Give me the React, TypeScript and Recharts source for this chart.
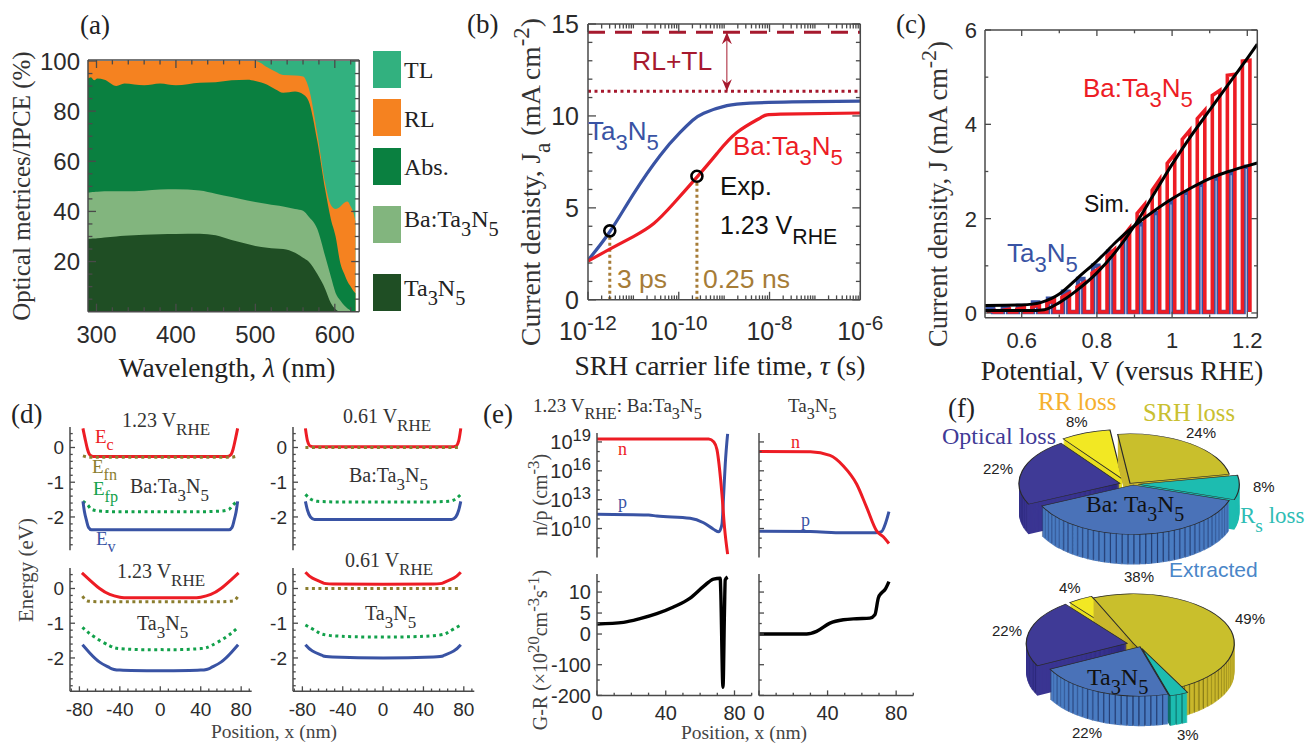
import React from 'react';
import { Area, Cell, ComposedChart, Line, Pie, PieChart, XAxis, YAxis } from 'recharts';

const SERIF = '"Liberation Serif", serif';
const SANS = '"Liberation Sans", sans-serif';
const INK = '#4a4a4a';
const RED = '#ed1c24';
const BLUE = '#3953a4';
const OLIVE = '#8b7d2e';
const GREEN = '#12a14b';
const WINE = '#a6192e';
const BROWN = '#a67c37';

// (a) optical metrics, all on one wavelength grid
const wavelengths = [289.3, 293, 297, 301, 310, 325, 335, 360, 380, 400, 430, 450, 470, 490, 500, 515, 525, 535, 550, 560, 567, 578, 588, 595, 601, 607, 612, 616, 620, 623, 626];
const tlTop = [100, 100, 100, 100, 100, 100, 100, 100, 100, 100, 100, 100, 100, 100, 100, 100, 100, 100, 100, 100, 100, 100, 100, 100, 100, 100, 100, 100, 100, 100, 100];
const rlTop = [100, 100, 100, 100, 100, 100, 100, 100, 100, 100, 100, 100, 100, 100, 100, 97.5, 95.8, 94.4, 94.2, 93.8, 89.4, 71, 51, 42.6, 41, 42, 43.5, 44, 42, 40, 36];
const absTop = [93, 93.5, 92.3, 93, 92.5, 90, 91, 90.3, 91, 90.3, 91.3, 91.5, 92.3, 92.5, 92, 90.5, 88.7, 87.3, 87.8, 86.7, 84, 68, 48.5, 37, 30, 19.3, 15, 12, 10, 8.5, 7.4];
const baTop = [47.5, 47.6, 47.7, 47.8, 48, 48, 48, 48.2, 48.7, 48.8, 48.3, 47, 45.7, 44.4, 43.8, 43, 42.5, 42, 41, 40.3, 38, 33, 22, 14, 7.5, 4.5, 2.5, 1.3, 0.5, 0, 0];
const taTop = [29, 29.1, 29.2, 29.3, 29.6, 30, 30.3, 30.7, 30.9, 31, 31.1, 30.5, 28.6, 27, 26.2, 25.5, 25.2, 25, 23.5, 21.5, 20, 15, 9, 3.5, 1, 0, 0, 0, 0, 0, 0];
const opticalRows = wavelengths.map((wl, i) => ({ wl, tl: tlTop[i], rl: rlTop[i], abs: absTop[i], ba: baTop[i], ta: taTop[i] }));
const legendRows: [string, string, number, number][] = [
  ['TL', '#32b17f', 51, 78],
  ['RL', '#f58220', 99, 127],
  ['Abs.', '#0a8040', 148, 175],
  ['Ba:Ta_{3}N_{5}', '#82b57e', 206, 227],
  ['Ta_{3}N_{5}', '#1f4e24', 274, 296],
];

// (b) x is log10 of the lifetime
const taLifetime = [[-12, 2.15], [-11.52, 3.7], [-11, 5.75], [-10.41, 7.85], [-9.97, 9.1], [-9.7, 9.75], [-9.45, 10.15], [-8.94, 10.56], [-8.43, 10.7], [-7.5, 10.76], [-6, 10.8]];
const baLifetime = [[-12, 2.1], [-11.51, 2.77], [-11, 3.44], [-10.55, 4.15], [-10.11, 5.25], [-9.6, 6.67], [-9.16, 7.95], [-8.72, 9.1], [-8.2, 9.9], [-7.76, 10.1], [-6, 10.16]];
const upperLimit = [[-12, 14.55], [-6, 14.55]];
const rlLimit = [[-12, 11.34], [-6, 11.34]];
const gapArrow = [[-8.94, 14.55], [-8.94, 11.34]];
const expTa = [[-11.52, 3.75]];
const expBa = [[-9.6, 6.72]];
const dropTa = [[-11.52, 0], [-11.52, 3.5]];
const dropBa = [[-9.6, 0], [-9.6, 6.45]];
const decades = [-12, -11, -10, -9, -8, -7];
const decadeSteps = [2, 3, 4, 5, 6, 7, 8, 9];

// (c) chopped light sweeps: [voltage, current when light goes on, current when it goes off]
const baPulses = [[0.507, 0.03, 0.05], [0.547, 0.05, 0.08], [0.587, 0.08, 0.12], [0.627, 0.12, 0.18], [0.667, 0.2, 0.27], [0.707, 0.33, 0.42], [0.747, 0.55, 0.65], [0.787, 0.85, 0.95], [0.827, 1.2, 1.35], [0.867, 1.6, 1.8], [0.907, 2.11, 2.3], [0.947, 2.6, 2.83], [0.987, 3.17, 3.37], [1.027, 3.68, 3.87], [1.067, 4.12, 4.3], [1.107, 4.61, 4.72], [1.147, 5.04, 5.06], [1.187, 5.34, 5.36]];
const taPulses = [[0.512, 0.1], [0.552, 0.1], [0.592, 0.15], [0.632, 0.22], [0.672, 0.3], [0.712, 0.45], [0.752, 0.72], [0.792, 1.0], [0.832, 1.3], [0.872, 1.6], [0.912, 1.88], [0.952, 2.12], [0.992, 2.35], [1.032, 2.55], [1.072, 2.72], [1.112, 2.85], [1.152, 2.97], [1.192, 3.1]];
const baSim = [[0.5, 0.05], [0.62, 0.05], [0.66, 0.07], [0.7, 0.22], [0.75, 0.5], [0.8, 0.85], [0.85, 1.3], [0.9, 1.85], [0.95, 2.5], [1, 3.15], [1.05, 3.75], [1.1, 4.3], [1.15, 4.85], [1.2, 5.4], [1.2266, 5.7]];
const taSim = [[0.5, 0.16], [0.6, 0.17], [0.65, 0.22], [0.7, 0.4], [0.75, 0.75], [0.8, 1.1], [0.85, 1.5], [0.9, 1.85], [0.95, 2.15], [1, 2.42], [1.05, 2.65], [1.1, 2.85], [1.15, 3], [1.2, 3.12], [1.2266, 3.18]];
const baTrace = baPulses.flatMap(([v, a, b]) => [[v, 0.02], [v, a], [v + 0.02, b], [v + 0.02, 0.02]]);
const taTrace = taPulses.flatMap(([v, a]) => [[v - 0.002, 0.02], [v - 0.002, a], [v + 0.012, a], [v + 0.012, 0.02]]);

// (d) band diagrams are symmetric about x = 0, so only the right half is listed
const sym = (half: number[][]) => [...half.slice(1).reverse().map(([x, y]) => [-x, y]), ...half];
const ecBa123 = sym([[0, -0.26], [66, -0.26], [70, -0.2], [72, -0.05], [74, 0.2], [76.5, 0.55]]);
const efnBa123 = sym([[0, -0.28], [70, -0.28], [76.5, -0.24]]);
const efpBa123 = sym([[0, -1.85], [40, -1.85], [60, -1.83], [68, -1.78], [72, -1.65], [76.5, -1.55]]);
const evBa123 = sym([[0, -2.37], [68, -2.37], [71, -2.3], [73, -2.1], [75, -1.85], [76.5, -1.55]]);
const ecBa061 = sym([[0, 0.02], [68, 0.02], [72, 0.04], [75, 0.2], [77, 0.55]]);
const efnBa061 = [[-77, 0], [77, 0]];
const efpBa061 = sym([[0, -1.57], [40, -1.57], [65, -1.55], [72, -1.48], [77, -1.35]]);
const evBa061 = sym([[0, -2.07], [68, -2.07], [72, -2], [75, -1.8], [77, -1.55]]);
const ecTa123 = sym([[0, -0.27], [30, -0.27], [40, -0.25], [50, -0.17], [60, 0], [70, 0.25], [77.5, 0.45]]);
const efnTa123 = sym([[0, -0.38], [60, -0.38], [72, -0.36], [77, -0.22]]);
const efpTa123 = sym([[0, -1.76], [20, -1.76], [40, -1.73], [50, -1.65], [65, -1.4], [77, -1.12]]);
const evTa123 = sym([[0, -2.37], [40, -2.35], [50, -2.28], [60, -2.12], [70, -1.85], [77, -1.62]]);
const ecTa061 = sym([[0, 0.12], [50, 0.13], [60, 0.17], [70, 0.3], [77, 0.47]]);
const efnTa061 = [[-77, 0], [77, 0]];
const efpTa061 = sym([[0, -1.4], [50, -1.36], [65, -1.25], [77, -1.05]]);
const evTa061 = sym([[0, -2], [50, -1.97], [60, -1.93], [70, -1.8], [77, -1.62]]);

// (e) y of the upper plots is log10 of the density
const nBa = [[0, 19.31], [65, 19.31], [68, 19], [69.8, 18.2], [72.7, 13.55], [74.2, 10.1], [76, 7.34]];
const pBa = [[0, 11.48], [30, 11.4], [34.8, 11.3], [54.2, 11.07], [62, 10.6], [67.8, 9.93], [70.9, 9.66], [72.7, 10.45], [73.7, 13.55], [74.6, 16.65], [76, 19.83]];
const nTa = [[0, 18], [30, 17.97], [41.4, 17.6], [49.2, 16.5], [57, 14.6], [62.8, 12.2], [68.6, 9.76], [72.5, 9.14], [75.8, 8.45]];
const pTa = [[0, 9.72], [30, 9.69], [49, 9.55], [68, 9.55], [71.5, 9.69], [73.9, 10.6], [75.8, 11.76]];
const grBa = [[0, 2.38], [15.4, 2.78], [25, 3.65], [34.8, 4.84], [44.5, 6.43], [54.2, 8.57], [62, 11.35], [67.8, 13.1], [71.7, 13.3], [72, 10.2], [73.3, -173.7], [74.2, 6.2], [74.6, 12.9], [76, 13.6]];
const grTa = [[0, 0], [27.8, 0], [33.6, 0.63], [41.4, 2.6], [49.2, 3.4], [57, 3.65], [64.7, 3.8], [67.6, 4.6], [69.6, 8.6], [71.5, 9.8], [73.5, 10.6], [75.8, 12.5]];
const grTicks = [10, 5, 0, -100, -200];
const grMinor = [12.5, 7.5, 2.5, -50, -150];
// the G-R axis is compressed below zero
const grScale = (v: number) => (v < 0 ? v * 0.0731 : v);

// (f) loss shares in percent, in clockwise order
const lossNames = ['Optical', 'RR', 'SRH', 'Rs', 'Extracted'];
const baLosses = [22, 8, 24, 8, 38];
const taLosses = [22, 4, 49, 3, 22];

const pieFaces = ['#3f3a96', '#f2e823', '#c9bf2c', '#1dbcb0', '#4a72b8'];
const pieWalls = ['#3a3592', '#e8de20', '#c9b72c', '#1dbcb0', '#4a7cc2'];
const pieLines = ['#1f1c60', '#e8de20', '#6f6510', '#0d6e68', '#243b70'];

type Spec = { domain: number[]; major: number[]; minor?: number[]; label?: (v: number) => string };
type Side = 'left' | 'right' | 'top' | 'bottom';

function rich(s: string, size: number) {
  let shift = 0;
  return s.split(/(_\{[^}]*\}|\^\{[^}]*\}|\*[^*]*\*)/).filter(Boolean).map((part, i) => {
    let target = 0;
    let text = part;
    let fontSize = size;
    let fontStyle: string | undefined;
    if (part[0] === '_' && part[1] === '{') {
      target = size * 0.38;
      fontSize = size * 0.85;
      text = part.slice(2, -1);
    } else if (part[0] === '^' && part[1] === '{') {
      target = -size * 0.4;
      fontSize = size * 0.83;
      text = part.slice(2, -1);
    } else if (part[0] === '*') {
      fontStyle = 'italic';
      text = part.slice(1, -1);
    }
    const dy = target - shift;
    shift = target;
    return <tspan key={i} dy={dy} fontSize={fontSize} fontStyle={fontStyle}>{text}</tspan>;
  });
}

const makeTick = (side: Side, spec: Spec, len: number, size: number, gap: number, labelled: boolean) => (p: any) => {
  const { x, y, payload } = p;
  const v = payload.value;
  const isMajor = spec.major.includes(v);
  const l = isMajor ? len : len * 0.55;
  const dx = side === 'left' ? l : side === 'right' ? -l : 0;
  const dy = side === 'bottom' ? -l : side === 'top' ? l : 0;
  const text = labelled && isMajor ? (spec.label ? spec.label(v) : String(v)) : '';
  return (
    <g>
      <line x1={x} y1={y} x2={x + dx} y2={y + dy} stroke={INK} strokeWidth={1.3} />
      {text !== '' && (
        <text
          x={side === 'left' ? x - gap : x}
          y={side === 'left' ? y + size * 0.36 : y + gap + size * 0.72}
          textAnchor={side === 'left' ? 'end' : 'middle'}
          fontFamily={SANS}
          fontSize={size}
          fill="#2b2b2b"
        >
          {rich(text, size)}
        </text>
      )}
    </g>
  );
};

type PlotProps = {
  box: number[];
  x: Spec;
  y: Spec;
  sides?: Side[];
  xKey?: string;
  data?: any[];
  len?: number;
  size?: number;
  gapX?: number;
  gapY?: number;
  yLabels?: boolean;
  children?: React.ReactNode;
};

const PAD = { left: 80, right: 30, top: 20, bottom: 50 };

function Plot({ box, x, y, sides = ['left', 'bottom', 'top', 'right'], xKey = 'x', data, len = 7, size = 20, gapX = 8, gapY = 6, yLabels = true, children }: PlotProps) {
  const [bx, by, bw, bh] = box;
  const has = (s: Side) => sides.includes(s);
  const axisLine = { stroke: INK, strokeWidth: 1.5 };
  const xTicks = [...x.major, ...(x.minor || [])];
  const yTicks = [...y.major, ...(y.minor || [])];
  const common = { type: 'number' as const, allowDataOverflow: true, interval: 0 as const, tickLine: false, tickSize: 0, tickMargin: 0, axisLine };
  return (
    <div style={{ position: 'absolute', left: bx - PAD.left, top: by - PAD.top }}>
      <ComposedChart
        width={bw + PAD.left + PAD.right}
        height={bh + PAD.top + PAD.bottom}
        data={data}
        margin={{
          left: 0,
          top: has('top') ? 0 : PAD.top,
          right: has('right') ? 0 : PAD.right,
          bottom: has('bottom') ? 0 : PAD.bottom,
        }}
      >
        {children}
        <XAxis {...common} dataKey={xKey} domain={x.domain} ticks={xTicks} height={PAD.bottom} hide={!has('bottom')} tick={makeTick('bottom', x, len, size, gapX, true)} />
        <YAxis {...common} domain={y.domain} ticks={yTicks} width={PAD.left} tick={makeTick('left', y, len, size, gapY, yLabels)} />
        {has('top') && <XAxis {...common} xAxisId="top" orientation="top" dataKey={xKey} domain={x.domain} ticks={xTicks} height={PAD.top} tick={makeTick('top', x, len, size, 0, false)} />}
        {has('right') && <YAxis {...common} yAxisId="right" orientation="right" domain={y.domain} ticks={yTicks} width={PAD.right} tick={makeTick('right', y, len, size, 0, false)} />}
      </ComposedChart>
    </div>
  );
}

const curve = (key: string, pts: number[][], color: string, width = 3, extra: any = {}) => (
  <Line
    key={key}
    data={pts.map(([x, y]) => ({ x, y }))}
    dataKey="y"
    type="monotone"
    stroke={color}
    strokeWidth={width}
    dot={false}
    isAnimationActive={false}
    {...extra}
  />
);

const bandLines = (ec: number[][], efn: number[][], efp: number[][], ev: number[][], type = 'monotone') => [
  curve('ec', ec, RED, 3, { type }),
  curve('efn', efn, OLIVE, 3, { strokeDasharray: '3 3.5' }),
  curve('efp', efp, GREEN, 3, { strokeDasharray: '3 3.5', type }),
  curve('ev', ev, BLUE, 3, { type }),
];

const arrowHead = (p: any) => {
  const up = p.index === 0;
  const s = up ? 1 : -1;
  return <polygon key={p.index} points={`${p.cx},${p.cy} ${p.cx - 5},${p.cy + s * 12} ${p.cx},${p.cy + s * 8} ${p.cx + 5},${p.cy + s * 12}`} fill={WINE} />;
};

const ring = { r: 5.5, fill: 'none', stroke: '#000', strokeWidth: 2.6 };

const SQUASH = 0.49;
const WALL_STEP = 1;

type Pie3DProps = {
  shares: number[];
  start: number;
  apex: number[][];
  order: number[];
  radius: number;
  depth: number;
  left: number;
  top: number;
  height: number;
  striped: boolean[];
};

function Pie3D({ shares, start, apex, order, radius, depth, left, top, height, striped }: Pie3DProps) {
  const total = shares.reduce((a, b) => a + b, 0);
  const angles = shares.map((_, i) => {
    const before = shares.slice(0, i).reduce((a, b) => a + b, 0);
    return [start - (before / total) * 360, start - ((before + shares[i]) / total) * 360];
  });
  const rows = shares.map((value, i) => ({ name: lossNames[i], value }));
  const pieces: React.ReactNode[] = [];
  order.forEach((i) => {
    const [ax, ay] = apex[i];
    const cx = ax - left;
    const toCy = (py: number) => (py - top) / SQUASH;
    // side wall: a stack of the same wedge, deepest first; thin dark strips stack into the vertical lines
    const span = angles[i][0] - angles[i][1];
    const strips = Math.max(2, Math.round(span / 3.4));
    const wallRows: { value: number; fill: string }[] = [];
    if (striped[i]) {
      for (let s = 0; s < strips; s++) {
        wallRows.push({ value: 0.8, fill: pieWalls[i] }, { value: 0.2, fill: pieLines[i] });
      }
    } else {
      wallRows.push({ value: 1, fill: pieWalls[i] });
    }
    for (let d = depth; d > 0; d -= WALL_STEP) {
      pieces.push(
        <Pie
          key={`${i}-${d}`}
          data={wallRows}
          dataKey="value"
          cx={cx}
          cy={toCy(ay + d)}
          outerRadius={radius}
          startAngle={angles[i][0]}
          endAngle={angles[i][1]}
          stroke="none"
          isAnimationActive={false}
          rootTabIndex={-1}
        >
          {wallRows.map((row, k) => <Cell key={k} fill={row.fill} stroke="none" />)}
        </Pie>,
      );
    }
    pieces.push(
      <Pie
        key={`${i}-face`}
        data={rows}
        dataKey="value"
        nameKey="name"
        cx={cx}
        cy={toCy(ay)}
        outerRadius={radius}
        startAngle={start}
        endAngle={start - 360}
        isAnimationActive={false}
        rootTabIndex={-1}
      >
        {rows.map((_, k) => (
          <Cell key={k} fill={k === i ? pieFaces[i] : 'none'} stroke={k === i ? '#2a2a2a' : 'none'} strokeWidth={1.2} />
        ))}
      </Pie>,
    );
  });
  return (
    <div style={{ position: 'absolute', left, top, transformOrigin: '0 0', transform: `scaleY(${SQUASH})` }}>
      <PieChart width={300} height={height / SQUASH} margin={{ left: 0, right: 0, top: 0, bottom: 0 }}>
        {pieces}
      </PieChart>
    </div>
  );
}

type Lab = [string, number, number, number, string?, any?];

const labels: Lab[] = [
  // (a)
  ['(a)', 80, 34, 27, '#222'],
  ['Optical metrices/IPCE (%)', 30, 186, 25, '#333', { rot: true, mid: true }],
  ['Wavelength, *λ* (nm)', 227, 377, 27.5, '#222', { mid: true }],
  // (b)
  ['(b)', 467, 33, 27, '#222'],
  ['Current denisty, J_{a} (mA cm^{-2})', 540, 182, 27.5, '#333', { rot: true, mid: true }],
  ['SRH carrier life time, *τ* (s)', 720, 375, 27.5, '#222', { mid: true }],
  ['RL+TL', 632, 70, 26.5, WINE, { sans: true }],
  ['Ta_{3}N_{5}', 588, 140, 26, BLUE, { sans: true }],
  ['Ba:Ta_{3}N_{5}', 733, 155, 26, RED, { sans: true }],
  ['Exp.', 720, 195, 26, '#111', { sans: true }],
  ['1.23 V_{RHE}', 720, 234, 25, '#111', { sans: true }],
  ['3 ps', 617, 288, 26.5, BROWN, { sans: true }],
  ['0.25 ns', 703, 288, 26.5, BROWN, { sans: true }],
  // (c)
  ['(c)', 896, 33, 27, '#222'],
  ['Current density, J (mA cm^{-2})', 947, 194, 26.5, '#333', { rot: true, mid: true }],
  ['Potential, V (versus RHE)', 1122, 380, 27, '#222', { mid: true }],
  ['Ba:Ta_{3}N_{5}', 1083, 97, 26, RED, { sans: true }],
  ['Sim.', 1084, 212, 23, '#111', { sans: true }],
  ['Ta_{3}N_{5}', 1007, 262, 26, BLUE, { sans: true }],
  // (d)
  ['(d)', 11, 423, 27, '#222'],
  ['Energy (eV)', 33, 570, 21, '#444', { rot: true, mid: true }],
  ['Position, x (nm)', 274, 738, 19.5, '#444', { mid: true }],
  ['1.23 V_{RHE}', 122, 427, 20, '#333'],
  ['0.61 V_{RHE}', 343, 423, 20, '#333'],
  ['Ba:Ta_{3}N_{5}', 130, 493, 20, '#333'],
  ['Ba:Ta_{3}N_{5}', 349, 482, 20, '#333'],
  ['1.23 V_{RHE}', 117, 578, 20, '#333'],
  ['0.61 V_{RHE}', 345, 567, 20, '#333'],
  ['Ta_{3}N_{5}', 137, 630, 20, '#333'],
  ['Ta_{3}N_{5}', 365, 620, 20, '#333'],
  ['E_{c}', 95, 443, 19, RED],
  ['E_{fn}', 92, 473, 19, OLIVE],
  ['E_{fp}', 93, 495, 19, GREEN],
  ['E_{v}', 96, 545, 19, BLUE],
  // (e)
  ['(e)', 483, 423, 27, '#222'],
  ['1.23 V_{RHE}: Ba:Ta_{3}N_{5}', 533, 412, 19, '#333'],
  ['Ta_{3}N_{5}', 788, 412, 19, '#333'],
  ['n', 618, 455, 18, RED],
  ['p', 618, 508, 18, BLUE],
  ['n', 791, 448, 18, RED],
  ['p', 801, 526, 18, BLUE],
  ['n/p (cm^{-3})', 547, 495, 20, '#444', { rot: true, mid: true }],
  ['G-R (×10^{20}cm^{-3}s^{-1})', 547, 650, 20, '#444', { rot: true, mid: true }],
  ['Position, x (nm)', 744, 739, 19.5, '#444', { mid: true }],
  // (f)
  ['(f)', 948, 417, 27, '#222'],
  ['RR loss', 1038, 410, 25, '#f5b02e'],
  ['SRH loss', 1143, 421, 24.5, '#c9c030'],
  ['Optical loss', 942, 444, 24, '#3f3a96'],
  ['R_{s} loss', 1240, 523, 23, '#2fbdb5'],
  ['Extracted', 1169, 577, 21, '#4a86c8', { sans: true }],
  ['Ba: Ta_{3}N_{5}', 1086, 512, 23.5, '#111'],
  ['Ta_{3}N_{5}', 1087, 685, 24, '#111'],
  ['8%', 1066, 427, 15, '#222', { sans: true }],
  ['24%', 1186, 438, 15, '#222', { sans: true }],
  ['22%', 983, 474, 15, '#222', { sans: true }],
  ['8%', 1253, 492, 15, '#222', { sans: true }],
  ['38%', 1124, 582, 15, '#222', { sans: true }],
  ['4%', 1059, 593, 15, '#222', { sans: true }],
  ['49%', 1235, 624, 15, '#222', { sans: true }],
  ['22%', 992, 636, 15, '#222', { sans: true }],
  ['22%', 1072, 738, 15, '#222', { sans: true }],
  ['3%', 1177, 740, 15, '#222', { sans: true }],
];

const specA: { x: Spec; y: Spec } = {
  x: { domain: [289.3, 630.7], major: [300, 400, 500, 600], minor: [320, 340, 360, 380, 420, 440, 460, 480, 520, 540, 560, 580, 620] },
  y: { domain: [0, 100.4], major: [20, 40, 60, 80, 100], minor: [5, 10, 15, 25, 30, 35, 45, 50, 55, 65, 70, 75, 85, 90, 95] },
};
const specB: { x: Spec; y: Spec } = {
  x: {
    domain: [-12, -6],
    major: [-12, -10, -8, -6],
    minor: [-11, -9, -7, ...decades.flatMap((d) => decadeSteps.map((s) => d + Math.log10(s)))],
    label: (v) => `10^{${v}}`,
  },
  y: { domain: [0, 15], major: [0, 5, 10, 15], minor: [1, 2, 3, 4, 6, 7, 8, 9, 11, 12, 13, 14] },
};
const specC: { x: Spec; y: Spec } = {
  x: { domain: [0.5024, 1.2266], major: [0.6, 0.8, 1, 1.2], minor: [0.7, 0.9, 1.1] },
  y: { domain: [-0.1, 6], major: [0, 2, 4, 6], minor: [1, 3, 5] },
};
const bandX: Spec = { domain: [-89.3, 90.4], major: [-80, -40, 0, 40, 80], minor: [-72, -64, -56, -48, -32, -24, -16, -8, 8, 16, 24, 32, 48, 56, 64, 72, 88, -88] };
const bandY: Spec = { domain: [-2.96, 0.59], major: [0, -1, -2], minor: [0.4, 0.2, -0.2, -0.4, -0.6, -0.8, -1.2, -1.4, -1.6, -1.8, -2.2, -2.4, -2.6, -2.8] };
const posX: Spec = { domain: [0, 90], major: [0, 40, 80], minor: [10, 20, 30, 50, 60, 70, 90] };
const logY: Spec = {
  domain: [7, 19.93],
  major: [10, 13, 16, 19],
  minor: [8, 9, 11, 12, 14, 15, 17, 18],
  label: (v) => `10^{${v}}`,
};
const grY: Spec = {
  domain: [grScale(-200), 14.3],
  major: grTicks.map(grScale),
  minor: grMinor.map(grScale),
  label: (v) => String(grTicks.find((t) => grScale(t) === v)),
};

export default function App() {
  return (
    <div style={{ position: 'absolute', left: 0, top: 0, width: 1309, height: 743, overflow: 'hidden', background: '#fff' }}>
      {/* (a) */}
      <Plot box={[87.5, 60, 271.2, 251.7]} x={specA.x} y={specA.y} xKey="wl" data={opticalRows} size={24} gapX={14} gapY={8} len={8}>
        <Area dataKey="tl" type="monotone" stroke="none" fill="#32b17f" fillOpacity={1} isAnimationActive={false} />
        <Area dataKey="rl" type="monotone" stroke="none" fill="#f58220" fillOpacity={1} isAnimationActive={false} />
        <Area dataKey="abs" type="monotone" stroke="none" fill="#0a8040" fillOpacity={1} isAnimationActive={false} />
        <Area dataKey="ba" type="monotone" stroke="none" fill="#82b57e" fillOpacity={1} isAnimationActive={false} />
        <Area dataKey="ta" type="monotone" stroke="none" fill="#1f4e24" fillOpacity={1} isAnimationActive={false} />
      </Plot>
      {legendRows.map(([name, color, top]) => (
        <div key={name} style={{ position: 'absolute', left: 373, top, width: 28, height: 37, background: color }} />
      ))}

      {/* (b) */}
      <Plot box={[587.7, 23.5, 272.3, 275.8]} x={specB.x} y={specB.y} size={25} gapX={22} gapY={9} len={8}>
        {curve('upper', upperLimit, WINE, 3.2, { strokeDasharray: '17 10' })}
        {curve('rl', rlLimit, WINE, 3, { strokeDasharray: '3 3.5' })}
        {curve('arrow', gapArrow, WINE, 1, { dot: arrowHead })}
        {curve('dropTa', dropTa, BROWN, 3, { strokeDasharray: '3 3' })}
        {curve('dropBa', dropBa, BROWN, 3, { strokeDasharray: '3 3' })}
        {curve('ta', taLifetime, BLUE, 3.2, { type: 'natural' })}
        {curve('ba', baLifetime, RED, 3.2, { type: 'natural' })}
        {curve('expTa', expTa, 'none', 0, { dot: ring })}
        {curve('expBa', expBa, 'none', 0, { dot: ring })}
      </Plot>

      {/* (c) */}
      <Plot box={[985, 30, 272.3, 287.7]} x={specC.x} y={specC.y} size={22} gapX={14} gapY={8} len={6}>
        {curve('taTrace', taTrace, BLUE, 4.5, { type: 'linear' })}
        {curve('baTrace', baTrace, RED, 3.6, { type: 'linear' })}
        {curve('taSim', taSim, '#000', 3, { type: 'natural' })}
        {curve('baSim', baSim, '#000', 3)}
      </Plot>

      {/* (d) */}
      <Plot box={[70, 426.7, 181.7, 123.3]} x={bandX} y={bandY} sides={['left']} size={19} len={5}>
        {bandLines(ecBa123, efnBa123, efpBa123, evBa123)}
      </Plot>
      <Plot box={[292.7, 426.7, 181.3, 123.3]} x={bandX} y={bandY} sides={['left']} size={19} len={5}>
        {bandLines(ecBa061, efnBa061, efpBa061, evBa061)}
      </Plot>
      <Plot box={[70, 567.7, 181.7, 123.3]} x={bandX} y={bandY} sides={['left', 'bottom']} size={19} len={5} gapX={11}>
        {bandLines(ecTa123, efnTa123, efpTa123, evTa123, 'natural')}
      </Plot>
      <Plot box={[292.7, 567.7, 181.3, 123.3]} x={bandX} y={bandY} sides={['left', 'bottom']} size={19} len={5} gapX={11}>
        {bandLines(ecTa061, efnTa061, efpTa061, evTa061, 'natural')}
      </Plot>

      {/* (e) */}
      <Plot box={[597, 433.3, 154.7, 124.4]} x={posX} y={logY} sides={['left']} size={20} len={5}>
        {curve('p', pBa, BLUE)}
        {curve('n', nBa, RED)}
      </Plot>
      <Plot box={[759, 433.3, 154.3, 124.4]} x={posX} y={logY} sides={['left']} yLabels={false} size={20} len={5}>
        {curve('p', pTa, BLUE)}
        {curve('n', nTa, RED)}
      </Plot>
      <Plot box={[597, 574.3, 154.7, 121.4]} x={posX} y={grY} sides={['left', 'bottom']} size={20} len={5} gapX={10}>
        {curve('gr', grBa.map(([x, v]) => [x, grScale(v)]), '#000', 3.4)}
      </Plot>
      <Plot box={[759, 574.3, 154.3, 121.4]} x={posX} y={grY} sides={['left', 'bottom']} yLabels={false} size={20} len={5} gapX={10}>
        {curve('gr', grTa.map(([x, v]) => [x, grScale(v)]), '#000', 3.4)}
      </Plot>

      {/* (f) */}
      <Pie3D
        shares={baLosses}
        start={205}
        apex={[[1120, 483.3], [1122.3, 479], [1130, 483.3], [1138.3, 484.3], [1133.3, 485]]}
        order={[1, 2, 0, 3, 4]}
        radius={101}
        depth={30}
        left={1000}
        top={420}
        height={160}
        striped={[true, false, false, false, true]}
      />
      <Pie3D
        shares={taLosses}
        start={207}
        apex={[[1127.3, 643.3], [1131.7, 641.7], [1133.3, 643.3], [1141.7, 648.3], [1140, 646.7]]}
        order={[1, 2, 0, 3, 4]}
        radius={101}
        depth={30}
        left={1000}
        top={590}
        height={153}
        striped={[true, false, true, true, true]}
      />

      {/* all free text sits on top of the plots */}
      <svg width={1309} height={743} style={{ position: 'absolute', left: 0, top: 0, pointerEvents: 'none' }}>
        {legendRows.map(([name, , , base]) => (
          <text key={name} x={404} y={base} fontFamily={SERIF} fontSize={24} fill="#222">{rich(name, 24)}</text>
        ))}
        {labels.map(([text, x, y, size, fill, opt], i) => (
          <text
            key={i}
            x={x}
            y={y}
            fontFamily={opt && opt.sans ? SANS : SERIF}
            fontSize={size}
            fill={fill}
            textAnchor={opt && opt.mid ? 'middle' : 'start'}
            transform={opt && opt.rot ? `rotate(-90 ${x} ${y})` : undefined}
          >
            {rich(text, size)}
          </text>
        ))}
      </svg>
    </div>
  );
}
